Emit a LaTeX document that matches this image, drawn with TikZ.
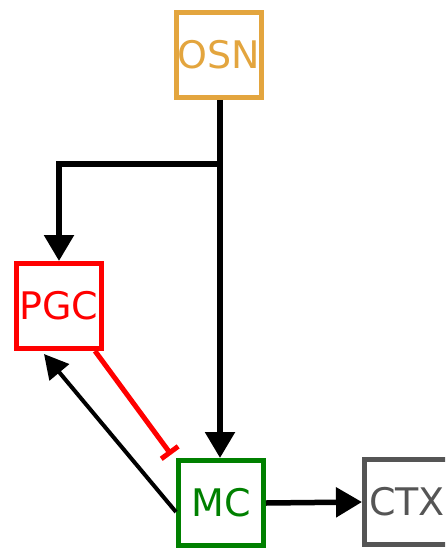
\documentclass[tikz,border=0pt]{standalone}
\usepackage{fontspec}
\setmainfont{DejaVu Sans}
\usetikzlibrary{arrows.meta}
\definecolor{osncol}{RGB}{227,165,62}
\definecolor{pgccol}{RGB}{255,0,0}
\definecolor{mccol}{RGB}{0,128,0}
\definecolor{ctxcol}{RGB}{85,85,85}
\tikzset{
  region/.style={draw, line width=5pt, minimum size=85pt, inner sep=0pt,
    font=\fontsize{38}{40}\selectfont},
  excite/.style={line width=5.5pt, -{Triangle[length=26pt,width=29pt]}},
  thinexcite/.style={line width=4pt, -{Triangle[length=24pt,width=25pt]}},
  inhibit/.style={line width=5pt, draw=pgccol, -{Bar[width=21pt,line width=5pt]}, shorten >=-2pt},
}
\begin{document}
\begin{tikzpicture}[x=1pt,y=-1pt]
  \useasboundingbox (0,0) rectangle (445,548);
  \begin{scope}
    \clip (0,0) rectangle (445,548);
    \node[region, draw=osncol, text=osncol] (osn) at (219,55) {OSN};
    \node[region, draw=pgccol, text=pgccol] (pgc) at (59,306) {PGC};
    \node[region, draw=mccol, text=mccol] (mc) at (221,503) {MC};
    \node[region, draw=ctxcol, text=ctxcol] (ctx) at (407,502) {CTX};
    \coordinate (split) at (220,164);
    \coordinate (pgcin) at (44,354);
    \coordinate (pgcout) at (95,351);
    \coordinate (mcin) at (170,453);
    \coordinate (mcout) at (176,512);

    \draw[line width=5.5pt] (split |- osn.south) -- (split);
    \draw[excite] (split) -- (split |- mc.north);
    \draw[excite] (split) -| (pgc.north);
    \draw[inhibit] (pgcout) -- (mcin);
    \draw[thinexcite] (mcout) -- (pgcin);
    \draw[excite] (mc.east) -- (ctx.west);
  \end{scope}
\end{tikzpicture}
\end{document}
